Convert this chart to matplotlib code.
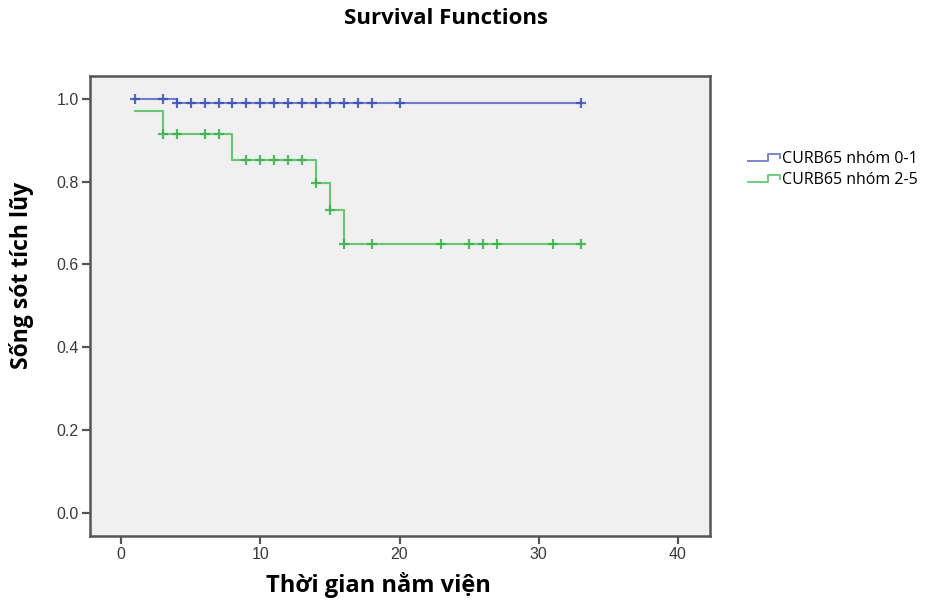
import numpy as np
import matplotlib
matplotlib.use("Agg")
import matplotlib.pyplot as plt
from matplotlib.legend_handler import HandlerBase
from matplotlib.lines import Line2D

plt.rcParams['font.family'] = ['Open Sans', 'DejaVu Sans']

# Kaplan-Meier steps (time, survival after the step)
t_low = [1, 4, 33]
s_low = [1.0, 0.989, 0.989]
cens_low = [1, 3, 4, 5, 6, 7, 8, 9, 10, 11, 12, 13, 14, 15, 16, 17, 18, 20, 33]

t_high = [1, 3, 8, 14, 15, 16, 33]
s_high = [0.971, 0.914, 0.853, 0.796, 0.730, 0.648, 0.648]
cens_high = [3, 4, 6, 7, 9, 10, 11, 12, 13, 14, 15, 16, 18, 23, 25, 26, 27, 31, 33]

labels = ['CURB65 nhóm 0-1', 'CURB65 nhóm 2-5']
colors = ['#5868c4', '#4cc25c']
mark_colors = ['#3a50b0', '#3ab04c']

x_ticks = [0, 10, 20, 30, 40]
y_ticks = [0.0, 0.2, 0.4, 0.6, 0.8, 1.0]


def surv_at(times, surv, q):
    idx = np.searchsorted(times, q, side='right') - 1
    return np.asarray(surv)[idx]


class StepHandler(HandlerBase):
    def create_artists(self, legend, orig_handle, xdescent, ydescent,
                       width, height, fontsize, trans):
        w, h = width, height
        xs = [-xdescent, -xdescent + 0.62 * w, -xdescent + 0.62 * w,
              -xdescent + w, -xdescent + w]
        ys = [0.2 * h, 0.2 * h, 0.8 * h, 0.8 * h, 0.45 * h]
        ln = Line2D(xs, ys, color=orig_handle.get_color(), lw=1.4,
                    alpha=0.8, transform=trans)
        return [ln]


fig = plt.figure(figsize=(9.27, 6.03), dpi=100)
ax = fig.add_axes([90 / 927, 1 - 536 / 603, 620 / 927, (536 - 75.7) / 603])
ax.set_facecolor('#f0f0f0')

handles = []
for times, surv, cens, c, mc, lab in [
        (t_low, s_low, cens_low, colors[0], mark_colors[0], labels[0]),
        (t_high, s_high, cens_high, colors[1], mark_colors[1], labels[1])]:
    ln, = ax.step(times, surv, where='post', color=c, lw=1.5, alpha=0.85, label=lab)
    ax.plot(cens, surv_at(times, surv, cens), linestyle='none', marker='+',
            markersize=6.5, markeredgewidth=1.6, color=mc, alpha=0.85)
    handles.append(ln)

ax.set_xlim(-2.23, 42.3)
ax.set_ylim(-0.0563, 1.0556)
ax.set_xticks(x_ticks)
ax.set_yticks(y_ticks)
ax.set_yticklabels([f'{v:.1f}' for v in y_ticks])
for sp in ax.spines.values():
    sp.set_color('#555555')
    sp.set_linewidth(1.8)
ax.tick_params(direction='out', length=6, width=1.6, color='#555555',
               labelsize=11.5, labelcolor='#3a3a3a', pad=2)
for lab in ax.get_xticklabels() + ax.get_yticklabels():
    lab.set_family(['Liberation Sans', 'DejaVu Sans'])

fig.text(446 / 927, 1 - 18 / 603, 'Survival Functions', ha='center', va='center',
         fontsize=16, fontweight='bold')
fig.text(378 / 927, 1 - 585 / 603, 'Thời gian nằm viện', ha='center', va='center',
         fontsize=17, fontweight='bold')
fig.text(22 / 927, 1 - 275 / 603, 'Sống sót tích lũy', ha='center', va='center',
         rotation=90, fontsize=16.5, fontweight='bold')

fig.legend(handles=handles, labels=labels, loc='upper left',
           bbox_to_anchor=(748 / 927, 1 - 151 / 603), frameon=False,
           handler_map={Line2D: StepHandler()}, handlelength=2.0,
           handletextpad=0.1, labelspacing=0.3, fontsize=11.5,
           borderpad=0, borderaxespad=0)

fig.savefig('out.png', dpi=100, facecolor='white')
